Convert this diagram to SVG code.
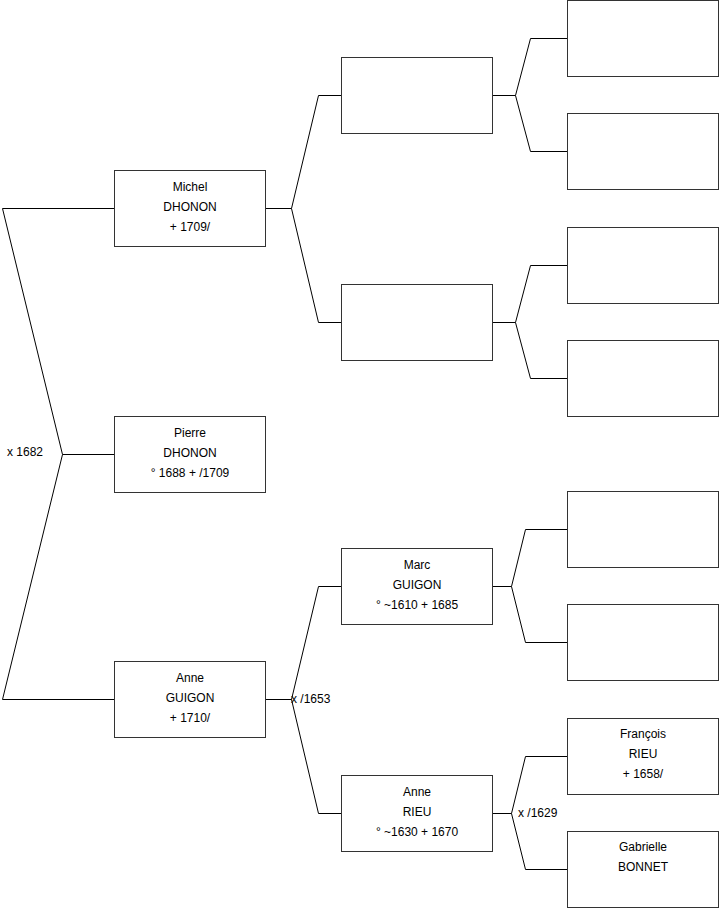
<svg xmlns="http://www.w3.org/2000/svg" width="719" height="908" viewBox="0 0 719 908">
<style>
.box{fill:#fff;stroke:#333;stroke-width:1}
.ln{fill:none;stroke:#000;stroke-width:1}
text{font-family:"Liberation Sans",Arial,sans-serif;font-size:12px;fill:#000}
.c{text-anchor:middle}
</style>
<rect width="719" height="908" fill="#fff"/>
<g id="connectors">
<polyline class="ln" points="114,208.5 2.5,208.5 62.5,454.5 2.5,699.5 114,699.5"/>
<line class="ln" x1="62.5" y1="454.5" x2="114" y2="454.5"/>
<polyline class="ln" points="341,95.5 318.5,95.5 291.5,208.5 318.5,322.5 341,322.5"/>
<line class="ln" x1="265" y1="208.5" x2="291.5" y2="208.5"/>
<polyline class="ln" points="341,586.5 318.5,586.5 291.5,699.5 318.5,813.5 341,813.5"/>
<line class="ln" x1="265" y1="699.5" x2="291.5" y2="699.5"/>
<polyline class="ln" points="567,38.5 530.5,38.5 515.5,95.5 530.5,151.5 567,151.5"/>
<line class="ln" x1="492" y1="95.5" x2="515.5" y2="95.5"/>
<polyline class="ln" points="567,265.5 530.5,265.5 515.5,322.5 530.5,378.5 567,378.5"/>
<line class="ln" x1="492" y1="322.5" x2="515.5" y2="322.5"/>
<polyline class="ln" points="567,529.5 525.5,529.5 511.5,586.5 525.5,642.5 567,642.5"/>
<line class="ln" x1="492" y1="586.5" x2="511.5" y2="586.5"/>
<polyline class="ln" points="567,756.5 525.5,756.5 511.5,813.5 525.5,869.5 567,869.5"/>
<line class="ln" x1="492" y1="813.5" x2="511.5" y2="813.5"/>
<text x="7" y="456">x 1682</text>
<text x="291" y="703">x /1653</text>
<text x="518" y="817">x /1629</text>
</g>
<g id="michel"><rect class="box" x="114.5" y="170.5" width="151" height="76"/>
<text class="c" x="190" y="191">Michel</text><text class="c" x="190" y="211">DHONON</text><text class="c" x="190" y="231">+ 1709/</text></g>
<g id="pierre"><rect class="box" x="114.5" y="416.5" width="151" height="76"/>
<text class="c" x="190" y="437">Pierre</text><text class="c" x="190" y="457">DHONON</text><text class="c" x="190" y="477">° 1688 + /1709</text></g>
<g id="anne-guigon"><rect class="box" x="114.5" y="661.5" width="151" height="76"/>
<text class="c" x="190" y="682">Anne</text><text class="c" x="190" y="702">GUIGON</text><text class="c" x="190" y="722">+ 1710/</text></g>
<g id="p2a"><rect class="box" x="341.5" y="57.5" width="151" height="76"/></g>
<g id="p2b"><rect class="box" x="341.5" y="284.5" width="151" height="76"/></g>
<g id="marc"><rect class="box" x="341.5" y="548.5" width="151" height="76"/>
<text class="c" x="417" y="569">Marc</text><text class="c" x="417" y="589">GUIGON</text><text class="c" x="417" y="609">° ~1610 + 1685</text></g>
<g id="anne-rieu"><rect class="box" x="341.5" y="775.5" width="151" height="76"/>
<text class="c" x="417" y="796">Anne</text><text class="c" x="417" y="816">RIEU</text><text class="c" x="417" y="836">° ~1630 + 1670</text></g>
<g id="p3a"><rect class="box" x="567.5" y="0.5" width="151" height="76"/></g>
<g id="p3b"><rect class="box" x="567.5" y="113.5" width="151" height="76"/></g>
<g id="p3c"><rect class="box" x="567.5" y="227.5" width="151" height="76"/></g>
<g id="p3d"><rect class="box" x="567.5" y="340.5" width="151" height="76"/></g>
<g id="p3e"><rect class="box" x="567.5" y="491.5" width="151" height="76"/></g>
<g id="p3f"><rect class="box" x="567.5" y="604.5" width="151" height="76"/></g>
<g id="francois"><rect class="box" x="567.5" y="718.5" width="151" height="76"/>
<text class="c" x="643" y="738">François</text><text class="c" x="643" y="758">RIEU</text><text class="c" x="643" y="778">+ 1658/</text></g>
<g id="gabrielle"><rect class="box" x="567.5" y="831.5" width="151" height="76"/>
<text class="c" x="643" y="851">Gabrielle</text><text class="c" x="643" y="871">BONNET</text></g>
</svg>
